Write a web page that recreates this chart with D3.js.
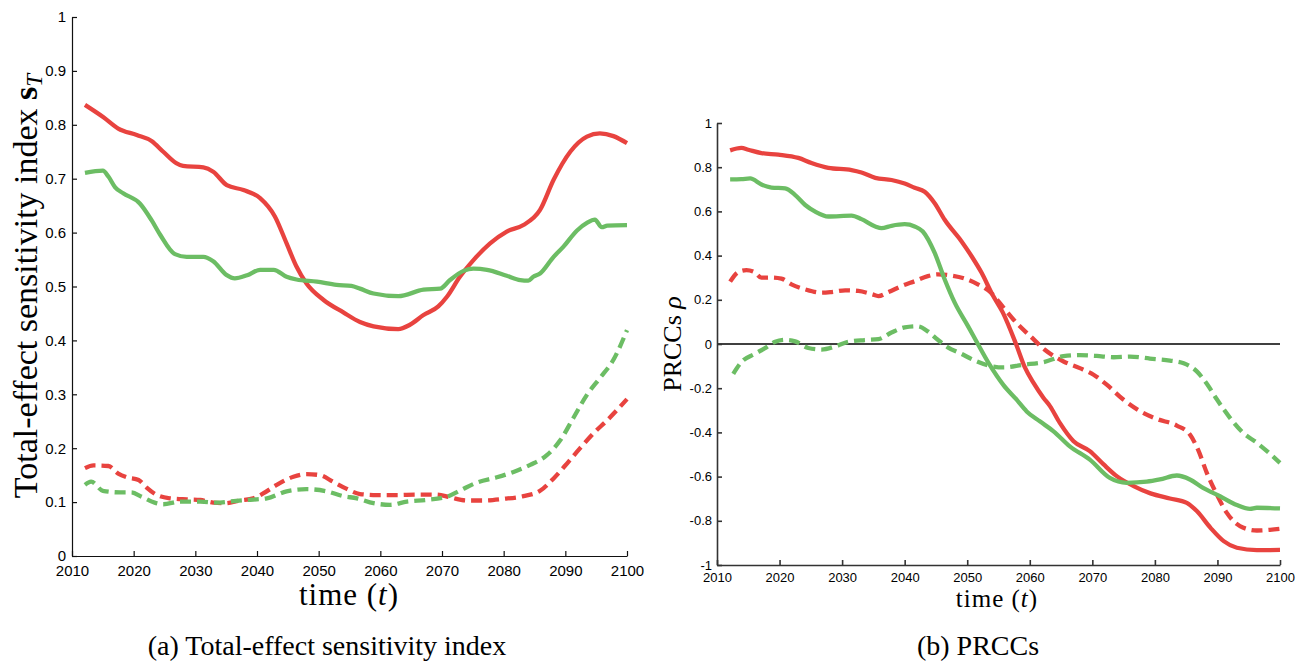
<!DOCTYPE html>
<html>
<head>
<meta charset="utf-8">
<script src="https://cdn.jsdelivr.net/npm/d3@7"></script>
<style>
  body { margin: 0; background: #fff; }
  svg { display: block; }
  .tick text { font-family: "Liberation Sans", Arial, sans-serif; fill: #000; }
</style>
</head>
<body>
<svg id="fig" width="1312" height="671"></svg>
<script>
/*
 * Data: [year, value] pairs
 */
var YEAR_TICKS = [2010, 2020, 2030, 2040, 2050, 2060, 2070, 2080, 2090, 2100];
var ST_TICKS   = [0, 0.1, 0.2, 0.3, 0.4, 0.5, 0.6, 0.7, 0.8, 0.9, 1];
var PRCC_TICKS = [-1, -0.8, -0.6, -0.4, -0.2, 0, 0.2, 0.4, 0.6, 0.8, 1];

/* panel (a): total-effect sensitivity index */
var stRedSolid = [[2012.1,0.837],[2015.1,0.814],[2017.5,0.793],[2020.5,0.781],[2022.9,0.770],[2024.8,0.750],[2026.9,0.729],[2028.0,0.724],[2031.3,0.721],[2032.9,0.713],[2035.1,0.688],[2037.8,0.679],[2040.5,0.664],[2042.9,0.630],[2044.8,0.580],[2046.4,0.537],[2048.0,0.506],[2050.8,0.475],[2054.0,0.452],[2056.7,0.434],[2058.9,0.426],[2062.9,0.421],[2064.8,0.429],[2067.0,0.447],[2069.4,0.463],[2070.8,0.481],[2072.9,0.518],[2075.1,0.549],[2077.8,0.580],[2080.5,0.602],[2083.2,0.614],[2085.9,0.642],[2088.1,0.698],[2090.8,0.750],[2093.5,0.778],[2095.6,0.784],[2097.8,0.779],[2100,0.766]];
var stGreenSolid = [[2012.1,0.711],[2015.0,0.715],[2015.9,0.704],[2017.0,0.684],[2018.3,0.673],[2021.0,0.654],[2022.9,0.623],[2024.3,0.596],[2026.7,0.560],[2028.6,0.555],[2031.3,0.555],[2032.9,0.547],[2035.1,0.521],[2036.4,0.515],[2038.4,0.521],[2040.5,0.531],[2042.7,0.531],[2044.8,0.518],[2046.4,0.513],[2049.7,0.509],[2052.9,0.503],[2055.3,0.501],[2056.7,0.496],[2058.9,0.487],[2062.9,0.482],[2067.0,0.494],[2069.7,0.496],[2071.3,0.512],[2073.5,0.529],[2075.1,0.533],[2077.3,0.531],[2080.5,0.520],[2082.7,0.512],[2084.0,0.511],[2084.8,0.518],[2085.9,0.524],[2088.1,0.555],[2089.7,0.574],[2091.9,0.604],[2093.5,0.618],[2094.8,0.624],[2095.9,0.610],[2096.8,0.613],[2100,0.614]];
var stRedDashed = [[2012.1,0.163],[2013.5,0.168],[2015.9,0.167],[2017.5,0.153],[2018.9,0.146],[2020.8,0.141],[2022.1,0.127],[2023.8,0.113],[2025.9,0.107],[2028.6,0.105],[2030.8,0.104],[2032.9,0.099],[2034.8,0.098],[2037.2,0.103],[2039.4,0.107],[2041.0,0.116],[2043.2,0.132],[2045.9,0.147],[2048.0,0.152],[2050.2,0.150],[2052.3,0.138],[2054.3,0.126],[2056.7,0.115],[2059.4,0.113],[2062.6,0.113],[2065.9,0.114],[2069.1,0.114],[2071.3,0.109],[2074.0,0.103],[2076.7,0.103],[2079.9,0.106],[2083.2,0.111],[2085.9,0.121],[2088.1,0.144],[2090.3,0.172],[2092.4,0.200],[2094.6,0.228],[2096.8,0.252],[2100,0.291]];
var stGreenDashed = [[2012.1,0.132],[2013.1,0.138],[2015.0,0.121],[2017.8,0.118],[2019.6,0.118],[2021.3,0.110],[2023.4,0.099],[2024.8,0.096],[2027.5,0.101],[2030.8,0.101],[2033.4,0.099],[2036.2,0.102],[2038.4,0.104],[2041.6,0.107],[2044.8,0.120],[2048.0,0.124],[2051.3,0.120],[2054.0,0.111],[2056.2,0.107],[2058.9,0.098],[2061.6,0.095],[2064.3,0.101],[2067.5,0.104],[2070.8,0.110],[2073.0,0.122],[2075.6,0.136],[2078.9,0.146],[2081.6,0.156],[2084.3,0.169],[2087.0,0.187],[2089.2,0.215],[2091.3,0.256],[2093.5,0.299],[2095.6,0.330],[2097.8,0.364],[2100,0.419]];

/* panel (b): PRCCs */
var prRedSolid = [[2012.1,0.876],[2013.9,0.887],[2015.0,0.879],[2017.1,0.864],[2019.8,0.857],[2023.0,0.842],[2025.1,0.819],[2027.8,0.797],[2031.5,0.787],[2033.1,0.776],[2035.3,0.752],[2037.9,0.742],[2040.0,0.726],[2041.6,0.707],[2043.2,0.689],[2044.8,0.637],[2046.4,0.562],[2049.1,0.464],[2050.7,0.397],[2052.3,0.322],[2054.0,0.225],[2055.7,0.142],[2057.8,0.0],[2059.2,-0.105],[2060.6,-0.176],[2062.2,-0.244],[2063.2,-0.280],[2064.8,-0.357],[2067.0,-0.440],[2069.6,-0.485],[2071.8,-0.545],[2073.9,-0.598],[2076.6,-0.643],[2079.3,-0.676],[2082.4,-0.699],[2085.1,-0.719],[2086.7,-0.756],[2088.9,-0.832],[2091.0,-0.892],[2093.1,-0.922],[2096.3,-0.933],[2100,-0.932]];
var prGreenSolid = [[2012.1,0.745],[2013.9,0.746],[2015.3,0.749],[2017.1,0.722],[2018.7,0.708],[2020.9,0.704],[2022.5,0.674],[2024.1,0.629],[2025.7,0.599],[2027.8,0.577],[2031.5,0.581],[2033.1,0.565],[2035.3,0.532],[2036.3,0.524],[2037.9,0.535],[2040.0,0.542],[2041.6,0.532],[2042.9,0.509],[2044.8,0.412],[2046.4,0.292],[2048.0,0.187],[2050.1,0.082],[2051.7,0.0],[2053.5,-0.090],[2055.8,-0.186],[2057.9,-0.252],[2059.5,-0.305],[2061.6,-0.350],[2063.8,-0.395],[2066.4,-0.463],[2069.6,-0.523],[2072.8,-0.606],[2075.5,-0.628],[2078.7,-0.623],[2080.8,-0.613],[2083.5,-0.595],[2085.6,-0.613],[2087.7,-0.651],[2090.4,-0.689],[2093.1,-0.729],[2095.2,-0.746],[2096.3,-0.741],[2100,-0.744]];
var prRedDashed = [[2012.1,0.282],[2013.4,0.325],[2014.7,0.334],[2016.0,0.325],[2017.1,0.300],[2018.7,0.301],[2020.3,0.296],[2021.9,0.270],[2024.1,0.247],[2026.7,0.232],[2028.3,0.235],[2030.5,0.243],[2032.6,0.240],[2034.8,0.225],[2035.8,0.217],[2037.4,0.235],[2039.5,0.262],[2041.6,0.284],[2043.7,0.307],[2045.3,0.315],[2047.4,0.310],[2049.6,0.296],[2051.7,0.270],[2053.8,0.232],[2055.8,0.165],[2057.9,0.095],[2060.1,0.035],[2062.4,-0.026],[2065.4,-0.079],[2068.0,-0.109],[2070.2,-0.139],[2072.3,-0.184],[2074.9,-0.250],[2077.6,-0.303],[2080.3,-0.339],[2083.5,-0.369],[2085.6,-0.410],[2086.9,-0.478],[2088.3,-0.583],[2089.9,-0.681],[2091.5,-0.764],[2093.6,-0.824],[2096.3,-0.844],[2100,-0.836]];
var prGreenDashed = [[2012.6,-0.135],[2013.9,-0.082],[2016.0,-0.045],[2017.6,-0.020],[2019.3,0.010],[2020.9,0.019],[2022.5,0.012],[2024.6,-0.018],[2026.7,-0.025],[2028.9,-0.011],[2031.0,0.010],[2033.6,0.018],[2035.8,0.022],[2037.9,0.052],[2040.0,0.075],[2042.1,0.080],[2043.7,0.057],[2045.3,0.019],[2046.9,-0.015],[2049.1,-0.045],[2051.2,-0.075],[2053.8,-0.100],[2055.8,-0.106],[2058.9,-0.094],[2062.2,-0.082],[2065.4,-0.055],[2068.0,-0.050],[2070.7,-0.054],[2073.4,-0.060],[2076.0,-0.057],[2079.2,-0.066],[2082.4,-0.075],[2084.6,-0.087],[2086.7,-0.124],[2088.3,-0.180],[2089.9,-0.250],[2092.0,-0.334],[2094.1,-0.402],[2096.3,-0.447],[2100,-0.538]];

/*
 * Style variables
 */
var RED = '#e8433f',
    GREEN = '#6cbd64',
    LINE_W = 4.3,
    DASH = '11,6',
    SERIF = '"Liberation Serif", "Times New Roman", serif';

var svg = d3.select('#fig');

function drawLine(g, x, y, data, color, dashed) {
    var line = d3.line()
        .x(function (d) { return x(d[0]); })
        .y(function (d) { return y(d[1]); })
        .curve(d3.curveMonotoneX);

    g.append('path')
        .datum(data)
        .attr('d', line)
        .attr('fill', 'none')
        .attr('stroke', color)
        .attr('stroke-width', LINE_W)
        .attr('stroke-dasharray', dashed ? DASH : null);
}

function fmt(d) {
    return String(+d.toFixed(1));
}

function serifText(g, size) {
    return g.append('text')
        .attr('font-family', SERIF)
        .attr('fill', '#000')
        .attr('text-anchor', 'middle')
        .style('font-family', SERIF)
        .style('font-size', size + 'px');
}

/*
 * Axis helper: ticks point inward, no outer caps
 */
function drawAxes(g, x, y, yTicks, opts) {
    var xAxis = d3.axisBottom(x)
        .tickValues(YEAR_TICKS)
        .tickFormat(d3.format('d'))
        .tickSizeInner(-5)
        .tickSizeOuter(0)
        .tickPadding(opts.xPad);

    var yAxis = d3.axisLeft(y)
        .tickValues(yTicks)
        .tickFormat(fmt)
        .tickSizeInner(-5)
        .tickSizeOuter(0)
        .tickPadding(opts.yPad);

    var gx = g.append('g')
        .attr('transform', 'translate(0,' + y.range()[0] + ')')
        .call(xAxis);
    var gy = g.append('g')
        .attr('transform', 'translate(' + x.range()[0] + ',0)')
        .call(yAxis);

    [gx, gy].forEach(function (a) {
        a.selectAll('path, line')
            .attr('stroke', opts.axisColor)
            .attr('stroke-width', opts.axisWidth);
        a.selectAll('text')
            .style('font-size', opts.fontSize + 'px');
    });
}

function drawPanelA() {
    var x = d3.scaleLinear().domain([2010, 2100]).range([72, 627]),
        y = d3.scaleLinear().domain([0, 1]).range([556, 17]);

    var g = svg.append('g');

    drawLine(g, x, y, stRedDashed, RED, true);
    drawLine(g, x, y, stGreenDashed, GREEN, true);
    drawLine(g, x, y, stRedSolid, RED, false);
    drawLine(g, x, y, stGreenSolid, GREEN, false);

    drawAxes(g, x, y, ST_TICKS, {
        xPad: 9, yPad: 6, axisColor: '#111', axisWidth: 1.2, fontSize: 15
    });

    /* y label: Total-effect sensitivity index s_T */
    var yl = serifText(g, 34)
        .attr('transform', 'translate(37,286) rotate(-90)');
    yl.append('tspan').text('Total-effect sensitivity index ');
    yl.append('tspan').style('font-weight', 'bold').text('s');
    yl.append('tspan').style('font-style', 'italic').style('font-size', '23px')
        .attr('dy', 5).text('T');

    var xl = serifText(g, 31)
        .attr('x', 349)
        .attr('y', 605)
        .style('letter-spacing', '1px');
    xl.append('tspan').text('time (');
    xl.append('tspan').style('font-style', 'italic').text('t');
    xl.append('tspan').text(')');

    serifText(g, 28)
        .attr('x', 327)
        .attr('y', 655)
        .text('(a) Total-effect sensitivity index');
}

function drawPanelB() {
    var x = d3.scaleLinear().domain([2010, 2100]).range([717, 1280]),
        y = d3.scaleLinear().domain([-1, 1]).range([565, 123]);

    var g = svg.append('g');

    /* zero reference line */
    g.append('line')
        .attr('x1', x(2010)).attr('x2', x(2100))
        .attr('y1', y(0)).attr('y2', y(0))
        .attr('stroke', '#000')
        .attr('stroke-width', 1.3);

    drawLine(g, x, y, prRedDashed, RED, true);
    drawLine(g, x, y, prGreenDashed, GREEN, true);
    drawLine(g, x, y, prRedSolid, RED, false);
    drawLine(g, x, y, prGreenSolid, GREEN, false);

    drawAxes(g, x, y, PRCC_TICKS, {
        xPad: 8, yPad: 5, axisColor: '#333', axisWidth: 1.6, fontSize: 13
    });

    var yl = serifText(g, 26)
        .attr('transform', 'translate(681,344) rotate(-90)');
    yl.append('tspan').text('PRCCs ');
    yl.append('tspan').style('font-style', 'italic').text('ρ');

    var xl = serifText(g, 25)
        .attr('x', 997)
        .attr('y', 607)
        .style('letter-spacing', '1px');
    xl.append('tspan').text('time (');
    xl.append('tspan').style('font-style', 'italic').text('t');
    xl.append('tspan').text(')');

    serifText(g, 28)
        .attr('x', 978)
        .attr('y', 655)
        .text('(b) PRCCs');
}

drawPanelA();
drawPanelB();
</script>
</body>
</html>
